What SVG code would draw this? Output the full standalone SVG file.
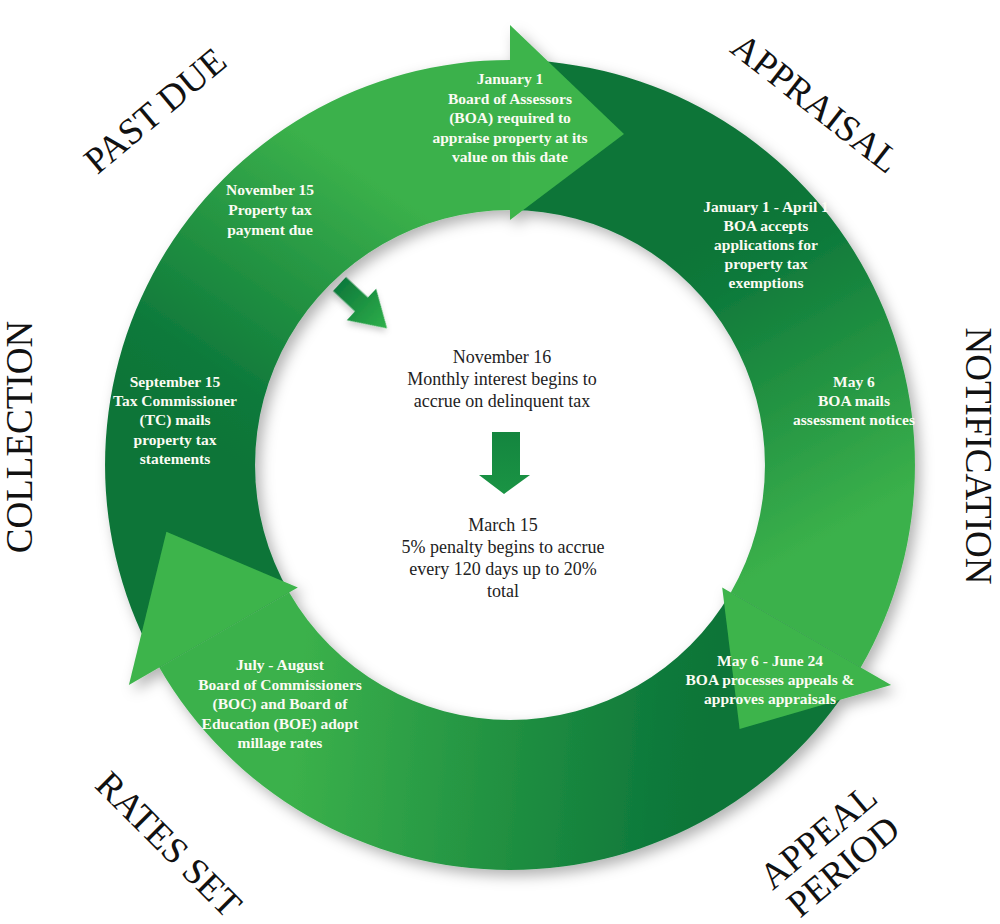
<svg xmlns="http://www.w3.org/2000/svg" width="1000" height="924" viewBox="0 0 1000 924">
<defs>
<style>
.lbl{font-family:"Liberation Serif","Times New Roman",serif;font-size:37px;fill:#111;}
.wt{font-family:"Liberation Serif","Times New Roman",serif;font-size:15.5px;font-weight:bold;fill:#fbfbf3;text-anchor:middle;}
.ct{font-family:"Liberation Serif","Times New Roman",serif;font-size:18px;fill:#222;text-anchor:middle;}
.head{fill:#3cb44b;}
</style>
<linearGradient id="g1" gradientUnits="userSpaceOnUse" x1="150" y1="420" x2="330" y2="150">
<stop offset="0" stop-color="#0c7437"/><stop offset="0.25" stop-color="#0f7a3b"/><stop offset="1" stop-color="#3bb14b"/>
</linearGradient>
<linearGradient id="g2" gradientUnits="userSpaceOnUse" x1="700" y1="230" x2="860" y2="520">
<stop offset="0" stop-color="#0c7437"/><stop offset="0.2" stop-color="#0f7a3b"/><stop offset="1" stop-color="#3bb14b"/>
</linearGradient>
<linearGradient id="g3" gradientUnits="userSpaceOnUse" x1="720" y1="720" x2="300" y2="680">
<stop offset="0" stop-color="#0c7437"/><stop offset="0.15" stop-color="#0f7a3b"/><stop offset="1" stop-color="#3bb14b"/>
</linearGradient>
<linearGradient id="ga" x1="0" y1="0" x2="1" y2="0">
<stop offset="0" stop-color="#0e7a3b"/><stop offset="1" stop-color="#2fb04a"/>
</linearGradient>
<linearGradient id="gb" x1="0" y1="0" x2="0" y2="1">
<stop offset="0" stop-color="#14853f"/><stop offset="1" stop-color="#1a9444"/>
</linearGradient>
<filter id="shadow" x="-15%" y="-15%" width="130%" height="130%">
<feDropShadow dx="5" dy="6" stdDeviation="7" flood-color="#000" flood-opacity="0.3"/>
</filter>
<filter id="shadowS" x="-30%" y="-30%" width="160%" height="160%">
<feDropShadow dx="2" dy="3" stdDeviation="3" flood-color="#000" flood-opacity="0.2"/>
</filter>
</defs>
<rect width="1000" height="924" fill="#ffffff"/>

<g id="connectors">
 <g id="cycle-ring" filter="url(#shadow)">
  <path id="body-collection" fill="url(#g1)" d="M 159.3 667.5 A 405 405 0 0 1 510 60 L 510 210 A 255 255 0 0 0 289.2 592.5 Z"/>
  <path id="body-appraisal" fill="url(#g2)" d="M 510 60 A 405 405 0 0 1 860.7 667.5 L 730.8 592.5 A 255 255 0 0 0 510 210 Z"/>
  <path id="body-appeal" fill="url(#g3)" d="M 860.7 667.5 A 405 405 0 0 1 159.3 667.5 L 289.2 592.5 A 255 255 0 0 0 730.8 592.5 Z"/>
  <polygon id="head-top" class="head" points="510,25 624,134 510,220"/>
  <polygon id="head-right" class="head" points="891.1,685 739.6,729.1 722.2,587.5"/>
  <polygon id="head-left" class="head" points="128.9,685 166.4,531.8 297.8,587.5"/>
 </g>
 <g id="arrow-diag" filter="url(#shadowS)" transform="translate(339.5,284) rotate(43)">
  <polygon fill="url(#ga)" points="0,-9.5 30,-9.5 30,-21.5 65,0 30,21.5 30,9.5 0,9.5"/>
 </g>
 <g id="arrow-down">
  <polygon fill="url(#gb)" points="492,432 520,432 520,475 530,475 504,494 479,475 492,475"/>
 </g>
</g>

<g id="label-past-due"><text class="lbl" text-anchor="middle" transform="translate(163,120) rotate(-40)">PAST DUE</text></g>
<g id="label-appraisal"><text class="lbl" text-anchor="middle" transform="translate(808,113) rotate(38)">APPRAISAL</text></g>
<g id="label-collection"><text class="lbl" text-anchor="middle" transform="translate(32,437) rotate(-90)">COLLECTION</text></g>
<g id="label-notification"><text class="lbl" text-anchor="middle" transform="translate(966,456) rotate(90)">NOTIFICATION</text></g>
<g id="label-rates-set"><text class="lbl" text-anchor="middle" transform="translate(160,853) rotate(45)">RATES SET</text></g>
<g id="label-appeal-period">
 <text class="lbl" text-anchor="middle" transform="translate(826,846) rotate(-40)"><tspan x="0" y="0">APPEAL</tspan><tspan x="0" y="39">PERIOD</tspan></text>
</g>

<g id="node-jan1">
 <text class="wt" x="510" y="84">January 1</text>
 <text class="wt" x="510" y="103.5">Board of Assessors</text>
 <text class="wt" x="510" y="123">(BOA) required to</text>
 <text class="wt" x="510" y="142.5">appraise property at its</text>
 <text class="wt" x="510" y="162">value on this date</text>
</g>
<g id="node-jan-apr">
 <text class="wt" x="766" y="212">January 1 - April 1</text>
 <text class="wt" x="766" y="231">BOA accepts</text>
 <text class="wt" x="766" y="250">applications for</text>
 <text class="wt" x="766" y="269">property tax</text>
 <text class="wt" x="766" y="288">exemptions</text>
</g>
<g id="node-may6">
 <text class="wt" x="854" y="387">May 6</text>
 <text class="wt" x="854" y="406">BOA mails</text>
 <text class="wt" x="854" y="425">assessment notices</text>
</g>
<g id="node-may-jun">
 <text class="wt" x="770" y="666">May 6 - June 24</text>
 <text class="wt" x="770" y="685">BOA processes appeals &amp;</text>
 <text class="wt" x="770" y="704">approves appraisals</text>
</g>
<g id="node-jul-aug">
 <text class="wt" x="280" y="670">July - August</text>
 <text class="wt" x="280" y="690">Board of Commissioners</text>
 <text class="wt" x="280" y="709">(BOC) and Board of</text>
 <text class="wt" x="280" y="729">Education (BOE) adopt</text>
 <text class="wt" x="280" y="748">millage rates</text>
</g>
<g id="node-sep15">
 <text class="wt" x="175" y="387">September 15</text>
 <text class="wt" x="175" y="406">Tax Commissioner</text>
 <text class="wt" x="175" y="425">(TC) mails</text>
 <text class="wt" x="175" y="445">property tax</text>
 <text class="wt" x="175" y="464">statements</text>
</g>
<g id="node-nov15">
 <text class="wt" x="270" y="195">November 15</text>
 <text class="wt" x="270" y="215">Property tax</text>
 <text class="wt" x="270" y="235">payment due</text>
</g>
<g id="node-nov16">
 <text class="ct" x="502" y="363">November 16</text>
 <text class="ct" x="502" y="385">Monthly interest begins to</text>
 <text class="ct" x="502" y="407">accrue on delinquent tax</text>
</g>
<g id="node-mar15">
 <text class="ct" x="503" y="531">March 15</text>
 <text class="ct" x="503" y="553">5% penalty begins to accrue</text>
 <text class="ct" x="503" y="575">every 120 days up to 20%</text>
 <text class="ct" x="503" y="597">total</text>
</g>
</svg>
